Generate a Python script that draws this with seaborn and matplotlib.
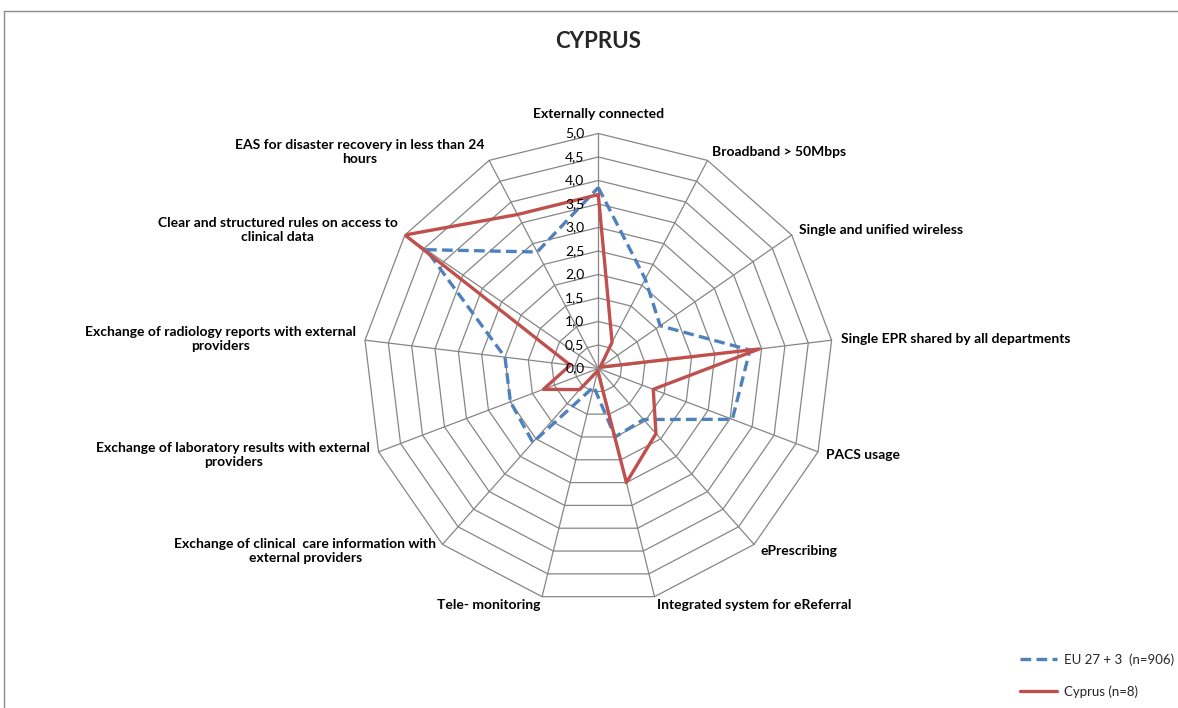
import numpy as np
import pandas as pd
import matplotlib
matplotlib.use("Agg")
import matplotlib.pyplot as plt
import seaborn as sns
from matplotlib.lines import Line2D

# Radar chart data
categories = [
    "Externally connected",
    "Broadband > 50Mbps",
    "Single and unified wireless",
    "Single EPR shared by all departments",
    "PACS usage",
    "ePrescribing",
    "Integrated system for eReferral",
    "Tele- monitoring",
    "Exchange of clinical  care information with\nexternal providers",
    "Exchange of laboratory results with external\nproviders",
    "Exchange of radiology reports with external\nproviders",
    "Clear and structured rules on access to\nclinical data",
    "EAS for disaster recovery in less than 24\nhours",
]
eu_values = [3.85, 2.15, 1.6, 3.25, 3.05, 1.45, 1.5, 0.4, 2.1, 2.0, 2.0, 4.45, 2.8]
cyprus_values = [3.7, 0.63, 0.05, 3.45, 1.25, 1.85, 2.5, 0.05, 0.6, 1.25, 0.6, 5.0, 3.7]
series_names = ["EU 27 + 3  (n=906)", "Cyprus (n=8)"]
tick_values = [0.0, 0.5, 1.0, 1.5, 2.0, 2.5, 3.0, 3.5, 4.0, 4.5, 5.0]
tick_labels = ["0,0", "0,5", "1,0", "1,5", "2,0", "2,5", "3,0", "3,5", "4,0", "4,5", "5,0"]

sns.set_theme(style="white")
plt.rcParams["font.family"] = ["Lato", "DejaVu Sans"]

n = len(categories)
theta = np.linspace(0, 2 * np.pi, n, endpoint=False)
theta_closed = np.append(theta, 2 * np.pi)

rows = []
for name, vals in zip(series_names, [eu_values, cyprus_values]):
    closed = list(vals) + [vals[0]]
    for t, v in zip(theta_closed, closed):
        rows.append({"series": name, "theta": t, "value": v})
df = pd.DataFrame(rows)

W, H = 1178, 708
cx, cy, R = 598.3, 368.5, 235
fig = plt.figure(figsize=(W / 100, H / 100), dpi=100)
ax = fig.add_axes([(cx - R) / W, (H - cy - R) / H, 2 * R / W, 2 * R / H], projection="polar")
ax.set_theta_zero_location("N")
ax.set_theta_direction(-1)
ax.set_ylim(0, 5)
ax.grid(False)
ax.spines["polar"].set_visible(False)
ax.set_xticks([])
ax.set_yticks([])

grid_color = "#868686"
# polygon rings
for r in tick_values[1:]:
    ax.plot(theta_closed, [r] * len(theta_closed), color=grid_color, lw=0.9, zorder=1, clip_on=False)
# spokes
for t in theta:
    ax.plot([t, t], [0, 5], color=grid_color, lw=0.9, zorder=1, clip_on=False)

palette = {series_names[0]: "#4F81BD", series_names[1]: "#C0504D"}
sns.lineplot(data=df, x="theta", y="value", hue="series", style="series",
             hue_order=series_names, style_order=series_names,
             palette=palette, dashes={series_names[0]: (3.2, 1.6), series_names[1]: ""},
             sort=False, estimator=None, linewidth=2.4, legend=False, ax=ax, zorder=3)
ax.set_xlabel("")
ax.set_ylabel("")
ax.set_ylim(0, 5)

# radial tick labels
for v, lab in zip(tick_values, tick_labels):
    ax.annotate(lab, xy=(0, v), xytext=(-14, 0), textcoords="offset pixels",
                ha="right", va="center", fontsize=10, color="black", zorder=4)

# category labels
for t, lab in zip(theta, categories):
    s, c = np.sin(t), np.cos(t)
    if abs(s) < 0.05:
        ha, off = "center", (0, 19)
    else:
        ha = "left" if s > 0 else "right"
        off = (9 * s, 9 * c)
    ax.annotate(lab, xy=(t, 5), xytext=off, textcoords="offset pixels",
                ha=ha, va="center", multialignment="center",
                fontsize=10, fontweight="bold", color="black", annotation_clip=False)

fig.text(cx / W, 1 - 41 / H, "CYPRUS", ha="center", va="center", fontsize=16, fontweight="bold")

# legend from the plotted series lines
handles = ax.lines[-2:]
ax.legend(handles, series_names, loc="upper left", bbox_to_anchor=(1020 / W, 1 - 653 / H),
          bbox_transform=fig.transFigure, frameon=False, fontsize=9.5, handlelength=2.8,
          handletextpad=0.5, labelspacing=1.5, borderpad=0, borderaxespad=0)

# chart frame (partly outside the picture)
fig.add_artist(Line2D([4 / W, 1.0], [1 - 11 / H, 1 - 11 / H], transform=fig.transFigure, color="#8c8c8c", lw=1))
fig.add_artist(Line2D([4 / W, 4 / W], [0, 1 - 11 / H], transform=fig.transFigure, color="#8c8c8c", lw=1))

fig.savefig("out.png", dpi=100, facecolor="white")
